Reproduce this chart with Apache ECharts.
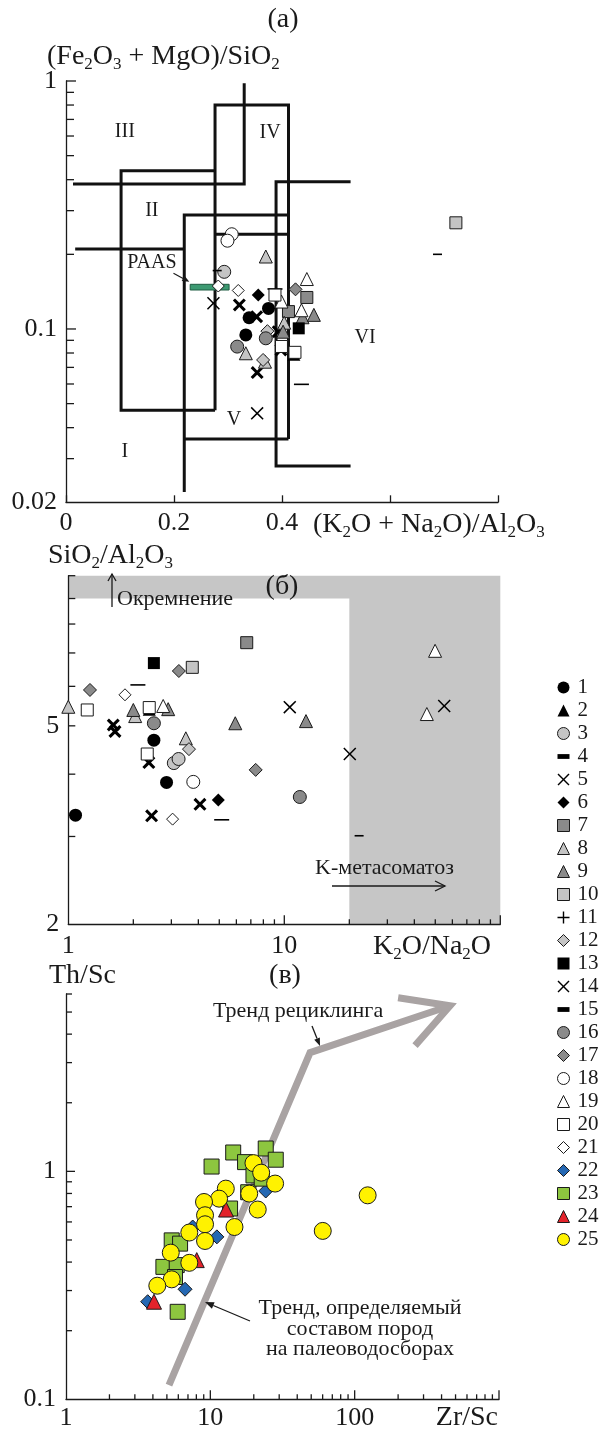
<!DOCTYPE html>
<html>
<head>
<meta charset="utf-8">
<script src="https://cdn.jsdelivr.net/npm/echarts@6.0.0/dist/echarts.min.js"></script>
<style>
html, body { margin: 0; padding: 0; background: #fff; }
#chart { width: 605px; height: 1430px; }
</style>
</head>
<body>
<div id="chart"></div>
<script>
const SERIF = '"Liberation Serif", "DejaVu Serif", serif';
const INK = '#1a1a1a';

// (a) [symbol type, (K2O+Na2O)/Al2O3, (Fe2O3+MgO)/SiO2]
const pointsA = [
  [18, 0.307, 0.241], [18, 0.299, 0.227], [8, 0.370, 0.196], [3, 0.293, 0.170],
  [4, 0.280, 0.172], [21, 0.282, 0.149], [21, 0.319, 0.143], [14, 0.273, 0.127],
  [5, 0.321, 0.125], [6, 0.356, 0.137], [20, 0.387, 0.137], [15, 0.387, 0.145],
  [17, 0.425, 0.1445], [19, 0.446, 0.159], [7, 0.446, 0.134], [1, 0.375, 0.121],
  [1, 0.339, 0.111], [1, 0.333, 0.0946], [5, 0.353, 0.112], [7, 0.412, 0.1175],
  [19, 0.436, 0.119], [19, 0.399, 0.129], [9, 0.438, 0.1115], [9, 0.459, 0.114],
  [8, 0.404, 0.106], [13, 0.431, 0.1006], [12, 0.373, 0.098], [9, 0.402, 0.0975],
  [5, 0.393, 0.0975], [16, 0.370, 0.0917], [16, 0.317, 0.0849], [8, 0.333, 0.0798],
  [12, 0.365, 0.075], [8, 0.3685, 0.0738], [5, 0.354, 0.0667], [20, 0.399, 0.085],
  [5, 0.398, 0.0823], [20, 0.424, 0.0805], [2, 0.422, 0.079], [15, 0.436, 0.0598],
  [10, 0.722, 0.268], [4, 0.688, 0.200], [14, 0.354, 0.0457]
];

// (б) [symbol type, K2O/Na2O, SiO2/Al2O3]
const pointsB = [
  [8, 1.0, 5.46], [20, 1.224, 5.38], [4, 1.21, 5.50], [17, 1.26, 5.90],
  [21, 1.83, 5.77], [15, 2.10, 6.04], [9, 2.0, 5.38], [8, 2.04, 5.23],
  [5, 1.615, 5.02], [5, 1.645, 4.87], [20, 2.37, 5.44], [2, 2.37, 5.40],
  [13, 2.49, 6.68], [19, 2.75, 5.48], [9, 2.90, 5.40], [17, 3.25, 6.44],
  [10, 3.75, 6.55], [7, 6.70, 7.34], [16, 2.49, 5.06], [1, 2.49, 4.68],
  [8, 3.50, 4.72], [12, 3.62, 4.49], [20, 2.32, 4.39], [5, 2.36, 4.22],
  [3, 3.08, 4.21], [3, 3.24, 4.29], [9, 5.93, 5.06], [17, 7.37, 4.08],
  [14, 10.6, 5.45], [19, 49.9, 7.07], [19, 45.7, 5.28], [14, 55.0, 5.48],
  [9, 12.6, 5.11], [14, 20.1, 4.39], [1, 1.08, 3.31], [1, 2.85, 3.85],
  [18, 3.79, 3.86], [5, 4.07, 3.48], [6, 4.95, 3.55], [5, 2.43, 3.30],
  [21, 3.04, 3.25], [15, 5.13, 3.24], [16, 11.8, 3.60], [4, 22.2, 3.01]
];

// (в) [symbol type, Zr/Sc, Th/Sc]
const pointsC = [
  [22, 24.2, 0.82], [22, 7.55, 0.57], [22, 11.1, 0.516], [22, 6.68, 0.304], [22, 3.68, 0.268],
  [23, 14.4, 1.21], [23, 24.2, 1.26], [23, 28.4, 1.125], [23, 10.2, 1.05], [23, 17.4, 1.098],
  [23, 19.9, 0.96], [23, 18.3, 0.81], [23, 13.7, 0.687], [23, 5.40, 0.498], [23, 6.17, 0.482],
  [23, 4.73, 0.381], [23, 5.85, 0.388], [23, 5.69, 0.344], [23, 5.94, 0.242], [23, 22.7, 0.929],
  [24, 12.85, 0.68], [24, 8.05, 0.408], [24, 4.07, 0.268],
  [25, 19.9, 1.087], [25, 22.5, 0.987], [25, 28.1, 0.884], [25, 12.8, 0.84], [25, 18.6, 0.799],
  [25, 11.5, 0.759], [25, 9.04, 0.734], [25, 21.3, 0.68], [25, 9.19, 0.642], [25, 9.19, 0.586],
  [25, 14.7, 0.57], [25, 7.15, 0.539], [25, 9.19, 0.495], [25, 5.32, 0.44], [25, 7.15, 0.397],
  [25, 5.40, 0.336], [25, 4.29, 0.315], [25, 60.1, 0.548], [25, 123, 0.785]
];

// field boundaries of the (a) diagram
const fieldLines = [
  [[0.013, 0.384], [0.330, 0.384], [0.330, 0.98]],
  [[0.276, 0.047], [0.276, 0.80], [0.412, 0.80], [0.412, 0.036]],
  [[0.276, 0.435], [0.102, 0.435], [0.102, 0.047], [0.276, 0.047]],
  [[0.017, 0.210], [0.219, 0.210]],
  [[0.219, 0.022], [0.219, 0.288], [0.412, 0.288]],
  [[0.276, 0.241], [0.412, 0.241]],
  [[0.219, 0.036], [0.412, 0.036]],
  [[0.527, 0.392], [0.389, 0.392], [0.389, 0.028], [0.527, 0.028]]
];
const paasBox = [[0.230, 0.1514], [0.302, 0.1436]];
const paasArrow = [[0.199, 0.1677], [0.2283, 0.155]];
const zoneNames = ['I', 'II', 'III', 'IV', 'V', 'VI', 'PAAS'];
const zoneX = [0.109, 0.159, 0.109, 0.378, 0.311, 0.554, 0.159];
const zoneY = [0.0319, 0.299, 0.623, 0.617, 0.043, 0.092, 0.1845];

// shaded silicification / K-metasomatism domain of (б)
const shadedDomain = [[1, 10], [100, 10], [100, 2], [20, 2], [20, 9], [1, 9]];

// trend arrows of (в)
const recyclingTrend = [[5.17, 0.1155], [49.1, 3.32], [458, 5.33]];
const recyclingHead = [[200, 5.78], [458, 5.33], [262, 3.56]];

// axis ticks and labels
const ticksAy = [0.03, 0.04, 0.05, 0.06, 0.07, 0.08, 0.09, 0.1, 0.2, 0.3, 0.4, 0.5, 0.6, 0.7, 0.8, 0.9, 1];
const labelValsAy = [0.02, 0.1, 1];
const labelsAy = ['0.02', '0.1', '1'];
const labelsAx = ['0', '0.2', '0.4', '', ''];
const ticksBy = [3, 4, 5, 6, 7, 8, 9, 10];
const labelValsBy = [2, 5];
const labelsBy = ['2', '5'];
const ticksBx = [2, 3, 4, 5, 6, 7, 8, 9, 10, 20, 30, 40, 50, 60, 70, 80, 90, 100];
const labelValsBx = [1, 10];
const labelsBx = ['1', '10'];
const ticksCy = [0.2, 0.3, 0.4, 0.5, 0.6, 0.7, 0.8, 0.9, 1, 2, 3, 4, 5, 6];
const labelValsCy = [0.1, 1];
const labelsCy = ['0.1', '1'];
const ticksCx = [2, 3, 4, 5, 6, 7, 8, 9, 10, 20, 30, 40, 50, 60, 70, 80, 90, 100,
  200, 300, 400, 500, 600, 700, 800, 900, 1000];
const labelValsCx = [1, 10, 100];
const labelsCx = ['1', '10', '100'];

const legendNames = ['1', '2', '3', '4', '5', '6', '7', '8', '9', '10', '11', '12', '13',
  '14', '15', '16', '17', '18', '19', '20', '21', '22', '23', '24', '25'];

// symbol shapes
const DASH = 'path://M0,0H10V4H0Z';
const X_BOLD = 'path://M2,0L6,4L10,0L12,2L8,6L12,10L10,12L6,8L2,12L0,10L4,6L0,2Z';
const X_THIN = 'path://M1,0L6,5L11,0L12,1L7,6L12,11L11,12L6,7L1,12L0,11L5,6L0,1Z';
const PLUS = 'path://M5.3,0H6.7V5.3H12V6.7H6.7V12H5.3V6.7H0V5.3H5.3Z';
const LIGHT = '#c4c4c4', DARK = '#8a8a8a';
const TICK_FONT = 26, TITLE_FONT = 28;

const markerStyles = {
  1: { symbol: 'circle', size: 13, fill: '#000', edge: false },
  2: { symbol: 'triangle', size: 13, fill: '#000', edge: false },
  3: { symbol: 'circle', size: 13, fill: LIGHT, edge: true },
  4: { symbol: DASH, size: [9, 4], fill: '#000', edge: false },
  5: { symbol: X_BOLD, size: 13, fill: '#000', edge: false },
  6: { symbol: 'diamond', size: 13, fill: '#000', edge: false },
  7: { symbol: 'rect', size: 12, fill: DARK, edge: true },
  8: { symbol: 'triangle', size: 13, fill: LIGHT, edge: true },
  9: { symbol: 'triangle', size: 13, fill: DARK, edge: true },
  10: { symbol: 'rect', size: 12, fill: LIGHT, edge: true },
  11: { symbol: PLUS, size: 12, fill: '#000', edge: false },
  12: { symbol: 'diamond', size: 13, fill: LIGHT, edge: true },
  13: { symbol: 'rect', size: 12, fill: '#000', edge: false },
  14: { symbol: X_THIN, size: 13, fill: '#000', edge: false },
  15: { symbol: DASH, size: [15, 4], fill: '#000', edge: false },
  16: { symbol: 'circle', size: 13, fill: DARK, edge: true },
  17: { symbol: 'diamond', size: 13, fill: DARK, edge: true },
  18: { symbol: 'circle', size: 13, fill: '#fff', edge: true },
  19: { symbol: 'triangle', size: 13, fill: '#fff', edge: true },
  20: { symbol: 'rect', size: 12, fill: '#fff', edge: true },
  21: { symbol: 'diamond', size: 12, fill: '#fff', edge: true },
  22: { symbol: 'diamond', size: 14, fill: '#2568b3', edge: true },
  23: { symbol: 'rect', size: 15, fill: '#8dc63f', edge: true },
  24: { symbol: 'triangle', size: 15, fill: '#e3232b', edge: true },
  25: { symbol: 'circle', size: 17, fill: '#fff200', edge: true }
};

function scatterFor(points, idx) {
  const types = Array.from(new Set(points.map(p => p[0]))).sort((a, b) => a - b);
  return types.map(t => scatterSeries(t, idx, points.filter(p => p[0] === t).map(p => [p[1], p[2]])));
}
function scatterSeries(t, idx, data) {
  const st = markerStyles[t];
  return {
    type: 'scatter', name: String(t), xAxisIndex: idx, yAxisIndex: idx, data,
    symbol: st.symbol, symbolSize: st.size, symbolKeepAspect: true,
    itemStyle: { color: st.fill, borderColor: INK, borderWidth: st.edge ? 1 : 0, opacity: 1 },
    clip: false, silent: true, z: 4, emphasis: { disabled: true }
  };
}

function tickSeries(idx, data) {
  return {
    type: 'custom', xAxisIndex: idx, yAxisIndex: idx, silent: true, z: 3, clip: false,
    dimensions: ['x', 'y', 'len', 'dir'], encode: { x: 0, y: 1 }, data,
    renderItem: (params, api) => {
      const p = api.coord([api.value(0), api.value(1)]);
      const len = api.value(2);
      const shape = api.value(3) === 0
        ? { x1: p[0], y1: p[1], x2: p[0] + len, y2: p[1] }
        : { x1: p[0], y1: p[1], x2: p[0], y2: p[1] - len };
      return { type: 'line', shape, style: { stroke: INK, lineWidth: 1.3 } };
    }
  };
}
function isDecade(v) { const l = Math.log10(v); return Math.abs(l - Math.round(l)) < 1e-9; }
function yTicks(xmin, vals, major, minor) { return vals.map(v => [xmin, v, isDecade(v) ? major : minor, 0]); }
function xTicks(ymin, vals, major, minor) { return vals.map(v => [v, ymin, isDecade(v) ? major : minor, 1]); }

function labelSeries(idx, data, texts, onY, offset) {
  return {
    type: 'custom', xAxisIndex: idx, yAxisIndex: idx, silent: true, z: 3, clip: false,
    dimensions: ['x', 'y'], encode: { x: 0, y: 1 }, data,
    renderItem: (params, api) => {
      const p = api.coord([api.value(0), api.value(1)]);
      const align = onY ? 'right' : 'center';
      return {
        type: 'text', x: onY ? p[0] - offset : p[0], y: onY ? p[1] : p[1] + offset,
        style: { text: texts[params.dataIndex], fontSize: TICK_FONT, fontFamily: SERIF, fill: INK,
          align, verticalAlign: 'middle', textAlign: align, textVerticalAlign: 'middle' }
      };
    }
  };
}

function polyline(idx, pts, color, width, z) {
  return {
    type: 'line', xAxisIndex: idx, yAxisIndex: idx, data: pts, symbol: 'none', silent: true,
    z, clip: false, animation: false,
    lineStyle: { color, width, cap: 'butt', join: 'miter' }
  };
}

function logAxis(gridIndex, min, max) {
  return {
    type: 'log', logBase: 10, gridIndex, min, max, z: 3,
    axisLine: { show: true, onZero: false, lineStyle: { color: INK, width: 1.3 } },
    axisTick: { show: false }, axisLabel: { show: false },
    splitLine: { show: false }, minorTick: { show: false }, minorSplitLine: { show: false }
  };
}

const series = [];
// (a) diagram
fieldLines.forEach(l => series.push(polyline(0, l, '#111', 3, 2)));
series.push({
  type: 'custom', xAxisIndex: 0, yAxisIndex: 0, silent: true, z: 3, clip: false, data: [0],
  renderItem: (params, api) => {
    const a = api.coord(paasBox[0]), b = api.coord(paasBox[1]);
    const s = api.coord(paasArrow[0]), e = api.coord(paasArrow[1]);
    const dx = e[0] - s[0], dy = e[1] - s[1], L = Math.hypot(dx, dy), ux = dx / L, uy = dy / L;
    const bx = e[0] - ux * 7, by = e[1] - uy * 7;
    return {
      type: 'group', children: [
        { type: 'rect', shape: { x: a[0], y: a[1], width: b[0] - a[0], height: b[1] - a[1] },
          style: { fill: '#3d9a72', stroke: '#1f5c42', lineWidth: 1 } },
        { type: 'line', shape: { x1: s[0], y1: s[1], x2: bx, y2: by }, style: { stroke: INK, lineWidth: 1.2 } },
        { type: 'polygon', shape: { points: [e, [bx - uy * 3, by + ux * 3], [bx + uy * 3, by - ux * 3]] },
          style: { fill: INK } }
      ]
    };
  }
});
series.push({
  type: 'custom', xAxisIndex: 0, yAxisIndex: 0, silent: true, z: 3, clip: false,
  dimensions: ['x', 'y'], encode: { x: 0, y: 1 },
  data: zoneX.map((x, i) => [x, zoneY[i]]),
  renderItem: (params, api) => {
    const p = api.coord([api.value(0), api.value(1)]);
    return { type: 'text', x: p[0], y: p[1],
      style: { text: zoneNames[params.dataIndex], fontSize: 20, fontFamily: SERIF, fill: INK,
        align: 'center', verticalAlign: 'middle', textAlign: 'center', textVerticalAlign: 'middle' } };
  }
});
series.push(tickSeries(0, yTicks(0, ticksAy, 10, 8)));
series.push(labelSeries(0, labelValsAy.map(v => [0, v]), labelsAy, true, 9));
scatterFor(pointsA, 0).forEach(s => series.push(s));

// (б) diagram
series.push({
  type: 'custom', xAxisIndex: 1, yAxisIndex: 1, silent: true, z: 1, clip: false, data: [0],
  renderItem: (params, api) => ({
    type: 'polygon', shape: { points: shadedDomain.map(p => api.coord(p)) },
    style: { fill: '#c6c6c6' }
  })
});
series.push(tickSeries(1, yTicks(1, ticksBy, 7, 7)));
series.push(tickSeries(1, xTicks(2, ticksBx, 9, 5)));
series.push(labelSeries(1, labelValsBy.map(v => [1, v]), labelsBy, true, 9));
series.push(labelSeries(1, labelValsBx.map(v => [v, 2]), labelsBx, false, 22));
scatterFor(pointsB, 1).forEach(s => series.push(s));

// (в) diagram
series.push(polyline(2, recyclingTrend, '#a9a3a3', 7, 2));
series.push(polyline(2, recyclingHead, '#a9a3a3', 7, 2));
series.push(tickSeries(2, yTicks(1, ticksCy, 9, 6)));
series.push(tickSeries(2, xTicks(0.1, ticksCx, 9, 5)));
series.push(labelSeries(2, labelValsCy.map(v => [1, v]), labelsCy, true, 10));
series.push(labelSeries(2, labelValsCx.map(v => [v, 0.1]), labelsCx, false, 19));
scatterFor(pointsC, 2).forEach(s => series.push(s));

// legend entries that have no plotted points
const plotted = new Set(series.filter(s => s.type === 'scatter').map(s => s.name));
legendNames.forEach(n => { if (!plotted.has(n)) series.push(scatterSeries(Number(n), 0, [])); });

// annotation helpers
function subRich(size) {
  return { s: { fontSize: Math.round(size * 0.62), fontFamily: SERIF, fill: INK, color: INK,
    verticalAlign: 'bottom', lineHeight: Math.round(size * 0.5) } };
}
function txt(x, y, text, size, align, lineHeight) {
  return {
    type: 'text', x, y, z: 10, silent: true,
    style: { text, fontSize: size, fontFamily: SERIF, fill: INK, align, verticalAlign: 'middle',
      textAlign: align, textVerticalAlign: 'middle', lineHeight: lineHeight || Math.round(size * 1.15),
      rich: subRich(size) }
  };
}
function arrow(x1, y1, x2, y2, head, half, filled) {
  const dx = x2 - x1, dy = y2 - y1, L = Math.hypot(dx, dy), ux = dx / L, uy = dy / L;
  const bx = x2 - ux * head, by = y2 - uy * head;
  const p1 = [bx - uy * half, by + ux * half], p2 = [bx + uy * half, by - ux * half];
  const els = [{ type: 'line', z: 10, silent: true,
    shape: { x1, y1, x2: filled ? bx : x2, y2: filled ? by : y2 }, style: { stroke: INK, lineWidth: 1.3 } }];
  els.push(filled
    ? { type: 'polygon', z: 10, silent: true, shape: { points: [[x2, y2], p1, p2] }, style: { fill: INK } }
    : { type: 'polyline', z: 10, silent: true, shape: { points: [p1, [x2, y2], p2] },
        style: { stroke: INK, lineWidth: 1.3, fill: 'none' } });
  return els;
}

const graphics = [
  txt(283, 20, '(a)', TITLE_FONT, 'center'),
  txt(47, 57, '(Fe{s|2}O{s|3} + MgO)/SiO{s|2}', TITLE_FONT, 'left'),
  txt(313, 525, '(K{s|2}O + Na{s|2}O)/Al{s|2}O{s|3}', TITLE_FONT, 'left'),
  txt(48, 556, 'SiO{s|2}/Al{s|2}O{s|3}', TITLE_FONT, 'left'),
  txt(282, 587, '(б)', TITLE_FONT, 'center'),
  txt(117, 599, 'Окремнение', 22, 'left'),
  txt(315, 868, 'K-метасоматоз', 22, 'left'),
  txt(373, 947, 'K{s|2}O/Na{s|2}O', TITLE_FONT, 'left'),
  txt(49, 976, 'Th/Sc', TITLE_FONT, 'left'),
  txt(285, 976, '(в)', TITLE_FONT, 'center'),
  txt(213, 1011, 'Тренд рециклинга', 22, 'left'),
  txt(360, 1329, 'Тренд, определяемый\nсоставом пород\nна палеоводосборах', 22, 'center', 20.5),
  txt(498, 1418, 'Zr/Sc', TITLE_FONT, 'right')
].concat(
  arrow(112, 607, 112, 574, 7, 4, false),
  arrow(332, 886, 445, 886, 10, 5, false),
  arrow(312, 1026, 320, 1046, 8, 3, true),
  arrow(250, 1321, 205, 1302, 9, 3.5, true)
);

const chart = echarts.init(document.getElementById('chart'), null, { renderer: 'canvas' });
chart.setOption({
  animation: false,
  backgroundColor: '#fff',
  grid: [
    { left: 66, top: 81, width: 432, height: 421.3, outerBoundsMode: 'none' },
    { left: 68.3, top: 575.7, width: 432, height: 348.6, outerBoundsMode: 'none' },
    { left: 66, top: 994, width: 433, height: 405.3, outerBoundsMode: 'none' }
  ],
  xAxis: [
    {
      type: 'value', gridIndex: 0, min: 0, max: 0.8, interval: 0.2, z: 3,
      axisLine: { show: true, onZero: false, lineStyle: { color: INK, width: 1.3 } },
      axisTick: { show: true, inside: true, length: 7, lineStyle: { color: INK, width: 1.3 } },
      axisLabel: { show: true, margin: 8, fontSize: TICK_FONT, fontFamily: SERIF, color: INK,
        formatter: v => labelsAx[Math.round(v / 0.2)] || '' },
      splitLine: { show: false }
    },
    logAxis(1, 1, 100),
    logAxis(2, 1, 1000)
  ],
  yAxis: [
    logAxis(0, 0.02, 1),
    logAxis(1, 2, 10),
    logAxis(2, 0.1, 6)
  ],
  legend: {
    orient: 'vertical', left: 557, top: 677, itemWidth: 12, itemHeight: 12, itemGap: 2,
    selectedMode: false, padding: 0,
    textStyle: { fontFamily: SERIF, fontSize: 21, color: INK, lineHeight: 16, padding: [0, 0, 0, 3] },
    data: legendNames.map(n => {
      const st = markerStyles[Number(n)];
      const item = { name: n, itemStyle: { borderWidth: st.edge ? 1 : 0, borderColor: INK } };
      if (n === '5') item.icon = X_THIN;
      return item;
    })
  },
  graphic: graphics,
  series
});
</script>
</body>
</html>
